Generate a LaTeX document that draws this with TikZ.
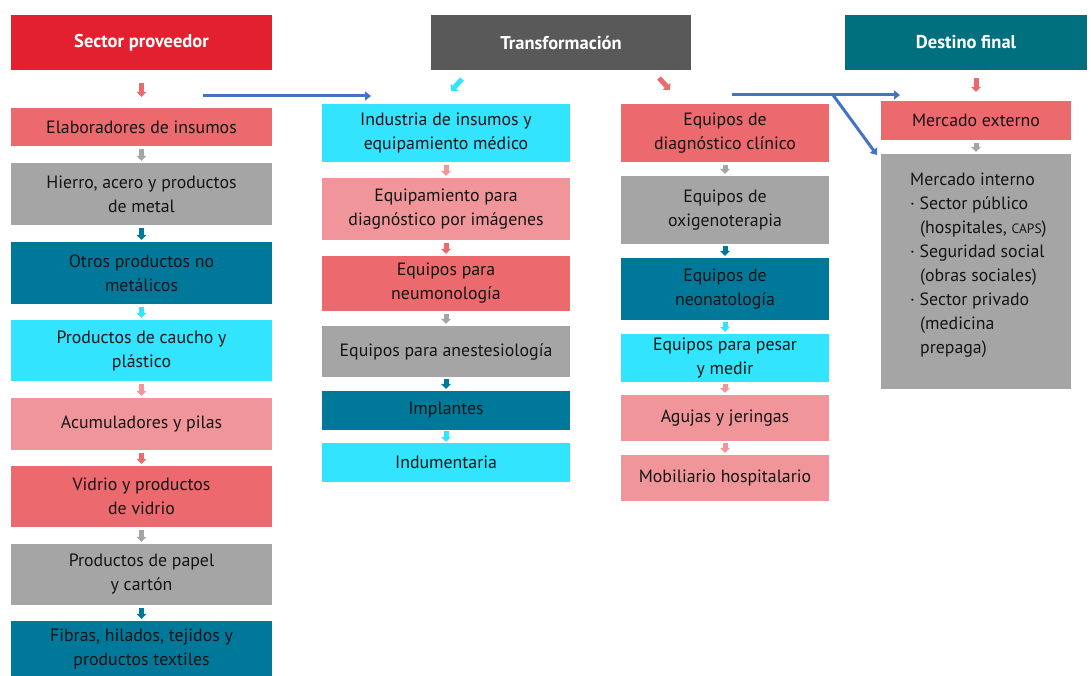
\documentclass[tikz,border=0pt]{standalone}
\usepackage{fontspec}
\setmainfont{PT Sans}
\usetikzlibrary{arrows.meta,calc}
\definecolor{hred}{HTML}{E3202F}
\definecolor{hgray}{HTML}{595959}
\definecolor{hteal}{HTML}{00707F}
\definecolor{cred}{HTML}{EC6A6E}
\definecolor{cgray}{HTML}{A5A5A5}
\definecolor{cteal}{HTML}{00789A}
\definecolor{ccyan}{HTML}{33E4FF}
\definecolor{cpink}{HTML}{F0969A}
\definecolor{cblue}{HTML}{4472C4}
\definecolor{txt}{HTML}{151515}
\tikzset{
  box/.style={fill=#1, draw=none, inner sep=2pt, align=center, text=txt,
    font=\fontsize{17.8}{24}\selectfont},
  head/.style={fill=#1, draw=none, text=white, align=center,
    font=\fontsize{18.5}{22}\selectfont\bfseries},
  sarr/.style={draw=#1, line width=5pt, -{Triangle[length=5pt,width=10pt]}},
  barr/.style={draw=cblue, line width=3pt, -{Triangle[length=6pt,width=9pt]}},
}
\begin{document}
\begin{tikzpicture}[x=1pt,y=-1pt]
\useasboundingbox (0,0) rectangle (1091,676);
% headers
\node[head=hred, minimum width=261pt, minimum height=55pt] (h1) at (141.5,42.5) {Sector proveedor};
\node[head=hgray, minimum width=260pt, minimum height=55pt] (h2) at (561,42.5) {Transformación};
\node[head=hteal, minimum width=242pt, minimum height=55pt] (h3) at (966,42.5) {Destino final};
% column 1
\node[box=cred, minimum width=261pt, minimum height=38pt] (c1a) at (141.5,127) {Elaboradores de insumos};
\node[box=cgray, minimum width=261pt, minimum height=62pt] (c1b) at (141.5,194) {Hierro, acero y productos\\de metal};
\node[box=cteal, minimum width=261pt, minimum height=62pt] (c1c) at (141.5,273) {Otros productos no\\metálicos};
\node[box=ccyan, minimum width=261pt, minimum height=61pt] (c1d) at (141.5,350.5) {Productos de caucho y\\plástico};
\node[box=cpink, minimum width=261pt, minimum height=52pt] (c1e) at (141.5,424) {Acumuladores y pilas};
\node[box=cred, minimum width=261pt, minimum height=61pt] (c1f) at (141.5,496.5) {Vidrio y productos\\de vidrio};
\node[box=cgray, minimum width=261pt, minimum height=61pt] (c1g) at (141.5,574.5) {Productos de papel\\y cartón};
\node[box=cteal, minimum width=261pt, minimum height=55pt] (c1h) at (141.5,648.5) {Fibras, hilados, tejidos y\\productos textiles};
% column 2
\node[box=ccyan, minimum width=248pt, minimum height=58pt] (c2a) at (446,133) {Industria de insumos y\\equipamiento médico};
\node[box=cpink, minimum width=248pt, minimum height=62pt] (c2b) at (446,209) {Equipamiento para\\diagnóstico por imágenes};
\node[box=cred, minimum width=248pt, minimum height=55pt] (c2c) at (446,283.5) {Equipos para\\neumonología};
\node[box=cgray, minimum width=248pt, minimum height=51pt] (c2d) at (446,351.5) {Equipos para anestesiología};
\node[box=cteal, minimum width=248pt, minimum height=39pt] (c2e) at (446,410.5) {Implantes};
\node[box=ccyan, minimum width=248pt, minimum height=39pt] (c2f) at (446,462.5) {Indumentaria};
% column 3
\node[box=cred, minimum width=208pt, minimum height=58pt] (c3a) at (725,133) {Equipos de\\diagnóstico clínico};
\node[box=cgray, minimum width=208pt, minimum height=68pt] (c3b) at (725,210) {Equipos de\\oxigenoterapia};
\node[box=cteal, minimum width=208pt, minimum height=62pt] (c3c) at (725,289) {Equipos de\\neonatología};
\node[box=ccyan, minimum width=208pt, minimum height=48pt] (c3d) at (725,358) {Equipos para pesar\\y medir};
\node[box=cpink, minimum width=208pt, minimum height=46pt] (c3e) at (725,418) {Agujas y jeringas};
\node[box=cpink, minimum width=208pt, minimum height=46pt] (c3f) at (725,478) {Mobiliario hospitalario};
% column 4
\node[box=cred, minimum width=190pt, minimum height=39pt] (c4a) at (976,120.5) {Mercado externo};
\node[box=cgray, minimum width=190pt, minimum height=235pt] (c4b) at (976,271.5) {};
\node[anchor=north west, align=left, inner sep=0pt, text=txt, font=\fontsize{17.8}{24}\selectfont] (c4t) at (910,173)
 {Mercado interno\\
 · Sector público\\
 \hspace*{10pt}(hospitales, {\fontsize{13.5}{24}\selectfont CAPS})\\
 · Seguridad social\\
 \hspace*{10pt}(obras sociales)\\
 · Sector privado\\
 \hspace*{10pt}(medicina\\
 \hspace*{10pt}prepaga)};
% small arrows column 1
\draw[sarr=cred] ($(h1.south)+(0,13)$) -- ($(c1a.north)+(0,-11)$);
\draw[sarr=cgray] ([yshift=-3pt]c1a.south) -- ([yshift=2pt]c1b.north);
\draw[sarr=cteal] ([yshift=-3pt]c1b.south) -- ([yshift=2pt]c1c.north);
\draw[sarr=ccyan] ([yshift=-3pt]c1c.south) -- ([yshift=2pt]c1d.north);
\draw[sarr=cpink] ([yshift=-3pt]c1d.south) -- ([yshift=2pt]c1e.north);
\draw[sarr=cred] ([yshift=-3pt]c1e.south) -- ([yshift=2pt]c1f.north);
\draw[sarr=cgray] ([yshift=-3pt]c1f.south) -- ([yshift=2pt]c1g.north);
\draw[sarr=cteal] ([yshift=-3pt]c1g.south) -- ([yshift=2pt]c1h.north);
% small arrows column 2
\coordinate (d2s) at (462,79);
\coordinate (d2e) at (451,91);
\draw[sarr=ccyan] (d2s) -- (d2e);
\draw[sarr=cpink] ([yshift=-3pt]c2a.south) -- ([yshift=2pt]c2b.north);
\draw[sarr=cred] ([yshift=-3pt]c2b.south) -- ([yshift=2pt]c2c.north);
\draw[sarr=cgray] ([yshift=-3pt]c2c.south) -- ([yshift=2pt]c2d.north);
\draw[sarr=cteal] ([yshift=-2pt]c2d.south) -- ([yshift=2pt]c2e.north);
\draw[sarr=ccyan] ([yshift=-1pt]c2e.south) -- ([yshift=1pt]c2f.north);
% small arrows column 3
\coordinate (d3s) at (659,78);
\coordinate (d3e) at (670,90);
\draw[sarr=cred] (d3s) -- (d3e);
\draw[sarr=cgray] ([yshift=-3pt]c3a.south) -- ([yshift=2pt]c3b.north);
\draw[sarr=cteal] ([yshift=-2pt]c3b.south) -- ([yshift=2pt]c3c.north);
\draw[sarr=ccyan] ([yshift=-2pt]c3c.south) -- ([yshift=2pt]c3d.north);
\draw[sarr=cpink] ([yshift=-2pt]c3d.south) -- ([yshift=2pt]c3e.north);
\draw[sarr=cpink] ([yshift=-2pt]c3e.south) -- ([yshift=2pt]c3f.north);
% column 4 arrows
\draw[sarr=cred] ($(c4a.north)+(0,-23)$) -- ($(c4a.north)+(0,-9)$);
\draw[sarr=cgray] ([yshift=-3pt]c4a.south) -- ([yshift=2pt]c4b.north);
% blue connectors
\coordinate (b1s) at (203,96);
\coordinate (b1e) at (371,96);
\draw[barr] (b1s) -- (b1e);
\coordinate (b2s) at (732,95);
\coordinate (b2m) at (833,95);
\coordinate (b2e) at (900,95);
\coordinate (b3e) at (877,155);
\draw[barr] (b2s) -- (b2e);
\draw[barr] (b2m) -- (b3e);
\end{tikzpicture}
\end{document}
